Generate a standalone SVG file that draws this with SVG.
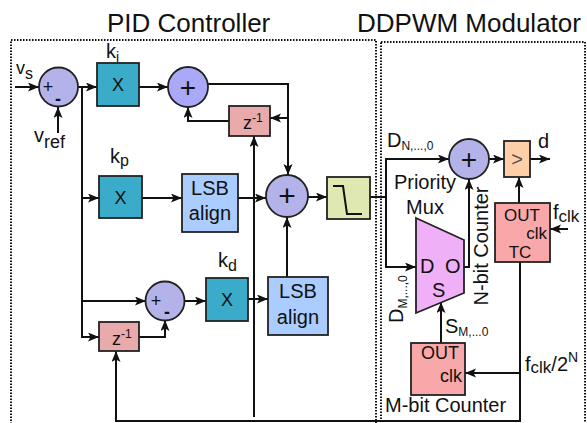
<svg xmlns="http://www.w3.org/2000/svg" width="587" height="423" viewBox="0 0 587 423">
<defs>
<marker id="ah" markerUnits="userSpaceOnUse" markerWidth="12" markerHeight="10" refX="11" refY="4.5" orient="auto">
<path d="M0,0 L11,4.5 L0,9 L2.5,4.5 z" fill="#111"/>
</marker>
<style>
text{font-family:"Liberation Sans",Arial,sans-serif;fill:#111}
.t{font-size:26px}
.l{font-size:20px}
.m{font-size:18px}
.n{font-size:17px}
.s{font-size:12px}
.c{text-anchor:middle}
.e{text-anchor:end}
.box{stroke:#222;stroke-width:1.8}
.mul{fill:#3aabc8}
.sum{fill:#b3b3ea}
.z{fill:#e8aaaa}
.lsb{fill:#aaccff}
.cnt{fill:#f8a8a8}
.w{fill:none;stroke:#111;stroke-width:2}
.a{marker-end:url(#ah)}
.dot{fill:none;stroke:#111;stroke-width:2;stroke-dasharray:1.5 1.5}
</style>
</defs>
<rect width="587" height="423" fill="#fff"/>
<g id="frames">
<rect class="dot" x="11" y="40" width="365" height="400"/>
<rect class="dot" x="381" y="42" width="204" height="400"/>
<text class="t" x="107" y="32">PID Controller</text>
<text class="t" x="357" y="32">DDPWM Modulator</text>
</g>
<g id="connectors">
<path class="w a" d="M15 87 H39"/>
<path class="w a" d="M58 133 V107"/>
<path class="w a" d="M78 87 H97"/>
<path class="w a" d="M82 87 V337 H99"/>
<path class="w a" d="M139 87 H168"/>
<path class="w a" d="M208 84 H288 V175"/>
<path class="w a" d="M288 118 H270"/>
<path class="w a" d="M229 121 H188 V107"/>
<path class="w a" d="M254 417 V136"/>
<path class="w a" d="M82 198 H99"/>
<path class="w a" d="M142 198 H182"/>
<path class="w a" d="M238 198 H266"/>
<path class="w a" d="M308 197 H327"/>
<path class="w a" d="M287 277 V217"/>
<path class="w a" d="M370 197 H386 V159 H449"/>
<path class="w a" d="M386 197 V267 H416"/>
<path class="w a" d="M82 301 H146"/>
<path class="w a" d="M185 301 H206"/>
<path class="w a" d="M248 299 H268"/>
<path class="w a" d="M139 337 H165 V320"/>
<path class="w a" d="M520 262 V421 H116 V351"/>
<path class="w a" d="M520 373 H465"/>
<path class="w a" d="M441 343 V302"/>
<path class="w a" d="M464 267 H469 V179"/>
<path class="w a" d="M489 159 H504"/>
<path class="w a" d="M519 203 V177"/>
<path class="w a" d="M530 159 H550"/>
<path class="w a" d="M568 229 H550"/>
</g>
<g id="labels">
<text class="m" x="16" y="74">v<tspan font-size="16" dy="5">s</tspan></text>
<text class="l" x="34" y="142">v<tspan font-size="18" dy="6">ref</tspan></text>
<text class="l" x="106" y="58" font-size="19">k<tspan font-size="14" dy="4">i</tspan></text>
<text class="l" x="110" y="163">k<tspan font-size="16" dy="3">p</tspan></text>
<text class="l" x="218" y="267">k<tspan font-size="16" dy="4">d</tspan></text>
<text class="l" x="387" y="147">D<tspan class="s" dy="3">N,...,0</tspan></text>
<text class="l" transform="translate(403,323) rotate(-90)">D<tspan class="s" dy="4">M,...,0</tspan></text>
<text class="l" x="445" y="333">S<tspan class="s" dy="3">M,...0</tspan></text>
<text class="l" x="538" y="148">d</text>
<text class="l" x="553" y="219">f<tspan font-size="17" dy="3">clk</tspan></text>
<text class="l" x="525" y="371">f<tspan font-size="17" dy="2">clk</tspan><tspan dy="-2">/2</tspan><tspan font-size="14" dy="-9">N</tspan></text>
</g>
<g id="sum1">
<circle class="box sum" cx="58.5" cy="87" r="19.5"/>
<text class="m c" x="48" y="93">+</text>
<text class="m c" x="58" y="105" font-weight="bold">-</text>
</g>
<g id="ki">
<rect class="box mul" x="97" y="63" width="42" height="43"/>
<text class="m c" x="118" y="91">X</text>
</g>
<g id="sum2">
<circle class="box" cx="188" cy="87" r="20" fill="#a9a9f8"/>
<text class="c" x="188" y="97" font-size="28">+</text>
</g>
<g id="z1">
<rect class="box z" x="229" y="106" width="41" height="30"/>
<text class="m" x="243" y="129">z<tspan class="s" dy="-7">-1</tspan></text>
</g>
<g id="kp">
<rect class="box mul" x="99" y="176" width="43" height="42"/>
<text class="m c" x="120.5" y="203.5">X</text>
</g>
<g id="lsb1">
<rect class="box lsb" x="182" y="174" width="56" height="58"/>
<text class="l c" x="210" y="195">LSB</text>
<text class="l c" x="210" y="220">align</text>
</g>
<g id="sum3">
<circle class="box sum" cx="287" cy="196" r="21"/>
<text class="c" x="287" y="206" font-size="30">+</text>
</g>
<g id="filter">
<rect class="box" x="327" y="177" width="43" height="42" fill="#dfe8b0"/>
<path class="w" d="M333 186 H343 L347 214 H362"/>
</g>
<g id="sum5">
<circle class="box sum" cx="165" cy="301" r="19.5"/>
<text class="m c" x="156" y="307">+</text>
<text class="m c" x="167" y="318" font-weight="bold">-</text>
</g>
<g id="kd">
<rect class="box mul" x="206" y="278" width="42" height="43"/>
<text class="m c" x="227" y="306">X</text>
</g>
<g id="lsb2">
<rect class="box lsb" x="268" y="277" width="60" height="58"/>
<text class="l c" x="298" y="298">LSB</text>
<text class="l c" x="298" y="324">align</text>
</g>
<g id="z2">
<rect class="box z" x="99" y="322" width="40" height="29"/>
<text class="m" x="112" y="345">z<tspan class="s" dy="-7">-1</tspan></text>
</g>
<g id="sum4">
<circle class="box sum" cx="469" cy="159" r="20"/>
<text class="c" x="469" y="169" font-size="28">+</text>
</g>
<g id="comparator">
<rect class="box" x="504" y="141" width="26" height="36" fill="#ffcfaa"/>
<text class="l c" x="517" y="166" style="fill:#555">&gt;</text>
</g>
<g id="mux">
<polygon class="box" points="416,218 464,240 464,293 416,313" fill="#f0b0f8"/>
<text class="l c" x="425" y="189">Priority</text>
<text class="l c" x="425" y="214">Mux</text>
<text class="l" x="420" y="273">D</text>
<text class="l" x="445" y="273">O</text>
<text class="l" x="432" y="297">S</text>
</g>
<g id="ncounter">
<rect class="box cnt" x="495" y="203" width="55" height="59"/>
<text class="n c" x="522" y="221">OUT</text>
<text class="n e" x="547" y="239">clk</text>
<text class="n c" x="520" y="258">TC</text>
<text class="l c" transform="translate(488,246) rotate(-90)">N-bit Counter</text>
</g>
<g id="mcounter">
<rect class="box cnt" x="411" y="343" width="54" height="52"/>
<text class="m c" x="440" y="359">OUT</text>
<text class="m e" x="462" y="382">clk</text>
<text class="l" x="385" y="412">M-bit Counter</text>
</g>
</svg>
